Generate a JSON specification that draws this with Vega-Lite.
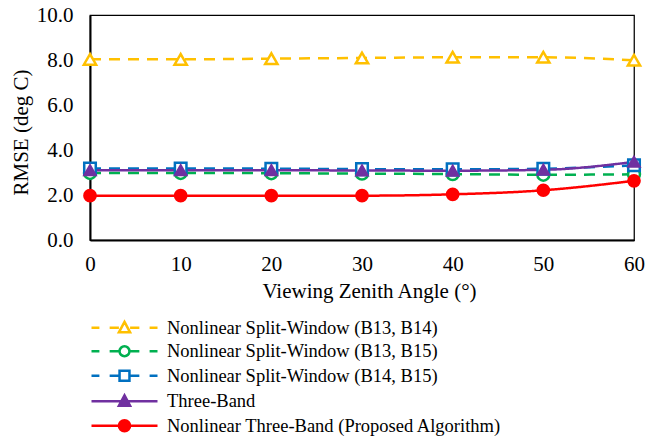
{
  "$schema": "https://vega.github.io/schema/vega-lite/v6.json",
  "width": 544,
  "height": 225,
  "autosize": "none",
  "padding": {"left": 90, "top": 15, "right": 13, "bottom": 198},
  "background": "white",
  "data": {
    "values": [
      {"angle": 0, "series": "Nonlinear Split-Window (B13, B14)", "rmse": 8.03},
      {"angle": 10, "series": "Nonlinear Split-Window (B13, B14)", "rmse": 8.03},
      {"angle": 20, "series": "Nonlinear Split-Window (B13, B14)", "rmse": 8.06},
      {"angle": 30, "series": "Nonlinear Split-Window (B13, B14)", "rmse": 8.09},
      {"angle": 40, "series": "Nonlinear Split-Window (B13, B14)", "rmse": 8.12},
      {"angle": 50, "series": "Nonlinear Split-Window (B13, B14)", "rmse": 8.12},
      {"angle": 60, "series": "Nonlinear Split-Window (B13, B14)", "rmse": 7.99},
      {"angle": 0, "series": "Nonlinear Split-Window (B13, B15)", "rmse": 2.98},
      {"angle": 10, "series": "Nonlinear Split-Window (B13, B15)", "rmse": 2.98},
      {"angle": 20, "series": "Nonlinear Split-Window (B13, B15)", "rmse": 2.97},
      {"angle": 30, "series": "Nonlinear Split-Window (B13, B15)", "rmse": 2.95},
      {"angle": 40, "series": "Nonlinear Split-Window (B13, B15)", "rmse": 2.93},
      {"angle": 50, "series": "Nonlinear Split-Window (B13, B15)", "rmse": 2.9},
      {"angle": 60, "series": "Nonlinear Split-Window (B13, B15)", "rmse": 2.92},
      {"angle": 0, "series": "Nonlinear Split-Window (B14, B15)", "rmse": 3.18},
      {"angle": 10, "series": "Nonlinear Split-Window (B14, B15)", "rmse": 3.18},
      {"angle": 20, "series": "Nonlinear Split-Window (B14, B15)", "rmse": 3.17},
      {"angle": 30, "series": "Nonlinear Split-Window (B14, B15)", "rmse": 3.15},
      {"angle": 40, "series": "Nonlinear Split-Window (B14, B15)", "rmse": 3.14},
      {"angle": 50, "series": "Nonlinear Split-Window (B14, B15)", "rmse": 3.17},
      {"angle": 60, "series": "Nonlinear Split-Window (B14, B15)", "rmse": 3.32},
      {"angle": 0, "series": "Three-Band", "rmse": 3.1},
      {"angle": 10, "series": "Three-Band", "rmse": 3.1},
      {"angle": 20, "series": "Three-Band", "rmse": 3.1},
      {"angle": 30, "series": "Three-Band", "rmse": 3.09},
      {"angle": 40, "series": "Three-Band", "rmse": 3.08},
      {"angle": 50, "series": "Three-Band", "rmse": 3.12},
      {"angle": 60, "series": "Three-Band", "rmse": 3.47},
      {"angle": 0, "series": "Nonlinear Three-Band (Proposed Algorithm)", "rmse": 1.97},
      {"angle": 10, "series": "Nonlinear Three-Band (Proposed Algorithm)", "rmse": 1.97},
      {"angle": 20, "series": "Nonlinear Three-Band (Proposed Algorithm)", "rmse": 1.97},
      {"angle": 30, "series": "Nonlinear Three-Band (Proposed Algorithm)", "rmse": 1.97},
      {"angle": 40, "series": "Nonlinear Three-Band (Proposed Algorithm)", "rmse": 2.03},
      {"angle": 50, "series": "Nonlinear Three-Band (Proposed Algorithm)", "rmse": 2.21},
      {"angle": 60, "series": "Nonlinear Three-Band (Proposed Algorithm)", "rmse": 2.63}
    ]
  },
  "encoding": {
    "x": {
      "field": "angle",
      "type": "quantitative",
      "scale": {"domain": [0, 60], "nice": false, "zero": false},
      "axis": {
        "values": [0, 10, 20, 30, 40, 50, 60],
        "title": "Viewing Zenith Angle (°)",
        "labelPadding": 13,
        "labelFlush": false,
        "labelOverlap": false,
        "titleX": 279,
        "titleY": 57,
        "titleBaseline": "alphabetic",
        "titleAlign": "center"
      }
    },
    "y": {
      "field": "rmse",
      "type": "quantitative",
      "scale": {"domain": [0, 10], "nice": false},
      "axis": {
        "values": [0, 2, 4, 6, 8, 10],
        "format": ".1f",
        "title": "RMSE (deg C)",
        "labelPadding": 17,
        "labelFlush": false,
        "labelOverlap": false,
        "titleAngle": 270,
        "titleX": -63,
        "titleY": 117,
        "titleBaseline": "alphabetic",
        "titleAlign": "center"
      }
    }
  },
  "layer": [
    {
      "mark": {"type": "line", "interpolate": "monotone", "strokeWidth": 2.5},
      "encoding": {
        "color": {
          "field": "series",
          "type": "nominal",
          "scale": {
            "domain": ["Nonlinear Split-Window (B13, B14)", "Nonlinear Split-Window (B13, B15)", "Nonlinear Split-Window (B14, B15)", "Three-Band", "Nonlinear Three-Band (Proposed Algorithm)"],
            "range": ["#FFC000", "#00B050", "#0070C0", "#7030A0", "#FF0000"]
          },
          "legend": {
            "title": null,
            "orient": "none",
            "legendX": 2,
            "legendY": 303.5,
            "padding": 0,
            "symbolSize": 100,
            "symbolStrokeWidth": 2.5,
            "symbolOffset": 23.25,
            "labelFont": "Liberation Serif",
            "labelFontSize": 18.5,
            "labelColor": "#000",
            "labelOffset": 33.25,
            "labelLimit": 0,
            "rowPadding": 3.5,
            "encode": {
              "symbols": {
                "update": {
                  "shape": {"signal": "['M-6.6,0L-5.02,0M-2.97,0L-1.12,0M1.12,0L2.97,0M5.02,0L6.6,0M0,-1.19L1.12,0.92L-1.12,0.92Z', 'M-6.6,0L-5.02,0M-2.97,0L-0.99,0M0.99,0L2.97,0M5.02,0L6.6,0M0.99,0A0.99,0.99 0 1,1 -0.99,0A0.99,0.99 0 1,1 0.99,0Z', 'M-6.6,0L-5.02,0M-2.97,0L-0.99,0M0.99,0L2.97,0M5.02,0L6.6,0M-0.99,-0.99L0.99,-0.99L0.99,0.99L-0.99,0.99Z', 'M-6.6,0L6.6,0M0,-1.19L1.12,0.92L-1.12,0.92Z', 'M-6.6,0L6.6,0M1.12,0A1.12,1.12 0 1,1 -1.12,0A1.12,1.12 0 1,1 1.12,0Z'][indexof(domain('color'), datum.value)]"},
                  "fill": {"signal": "['white', 'white', 'white', '#7030A0', '#FF0000'][indexof(domain('color'), datum.value)]"},
                  "stroke": {"signal": "scale('color', datum.value)"},
                  "strokeWidth": {"value": 2.5},
                  "strokeDash": {"value": []},
                  "opacity": {"value": 1},
                  "size": {"value": 100}
                }
              }
            }
          }
        },
        "strokeDash": {
          "field": "series",
          "type": "nominal",
          "scale": {
            "range": [[11, 8], [11, 8], [11, 8], [1, 0], [1, 0]]
          },
          "legend": null
        }
      }
    },
    {
      "mark": {"type": "point", "filled": false, "strokeWidth": 2.5, "opacity": 1},
      "encoding": {
        "shape": {
          "field": "series",
          "type": "nominal",
          "scale": {
            "range": ["triangle-up", "circle", "square", "circle", "triangle-up"]
          },
          "legend": null
        },
        "stroke": {
          "field": "series",
          "type": "nominal",
          "scale": {
            "range": ["#FFC000", "#00B050", "#0070C0", "#FF0000", "#7030A0"]
          },
          "legend": null
        },
        "fill": {
          "field": "series",
          "type": "nominal",
          "scale": {
            "range": ["#FFFFFF", "#FFFFFF", "#FFFFFF", "#FF0000", "#7030A0"]
          },
          "legend": null
        },
        "size": {
          "field": "series",
          "type": "nominal",
          "scale": {
            "range": [150, 117, 149, 174, 121]
          },
          "legend": null
        }
      }
    }
  ],
  "config": {
    "font": "Liberation Serif",
    "view": {"stroke": "#000", "strokeWidth": 1.25},
    "axis": {
      "labelFont": "Liberation Serif",
      "titleFont": "Liberation Serif",
      "labelFontSize": 21,
      "titleFontSize": 21,
      "titleFontWeight": "normal",
      "labelColor": "#000",
      "titleColor": "#000",
      "grid": false,
      "ticks": false,
      "tickSize": 0,
      "domainColor": "#000",
      "domainWidth": 2
    }
  }
}
